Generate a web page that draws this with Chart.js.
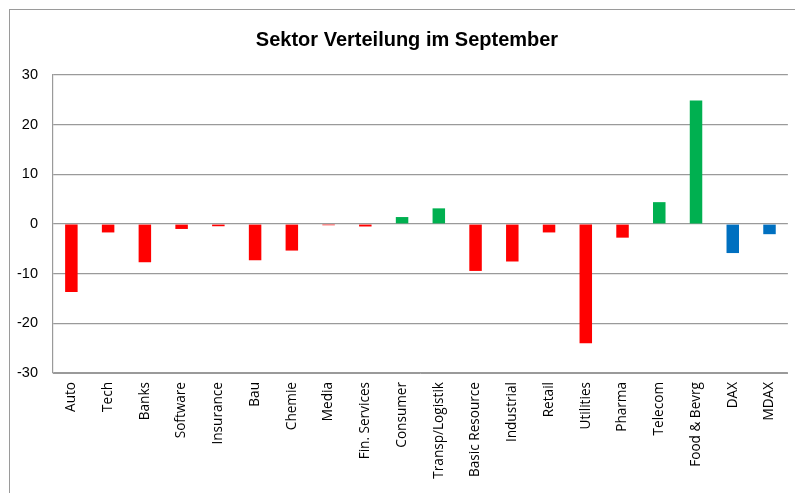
<!DOCTYPE html>
<html>
<head>
<meta charset="utf-8">
<script src="https://cdn.jsdelivr.net/npm/chart.js@4"></script>
<style>
  html, body { margin: 0; padding: 0; background: #fff; width: 795px; height: 493px; overflow: hidden; }
  #frame { position: absolute; left: 9px; top: 9px; width: 820px; height: 520px; border: 1.5px solid #9a9a9a; box-sizing: border-box; }
  #wrap { position: absolute; left: 0; top: 0; width: 795px; height: 493px; }
</style>
</head>
<body>
<div id="frame"></div>
<div id="wrap"><canvas id="c" width="795" height="493"></canvas></div>
<script>
const titleText = 'Sektor Verteilung im September';
const categories = ['Auto', 'Tech', 'Banks', 'Software', 'Insurance', 'Bau', 'Chemie', 'Media',
  'Fin. Services', 'Consumer', 'Transp/Logistik', 'Basic Resource', 'Industrial', 'Retail',
  'Utilities', 'Pharma', 'Telecom', 'Food & Bevrg', 'DAX', 'MDAX'];
const values = [-13.7, -1.7, -7.7, -1.0, -0.45, -7.3, -5.35, -0.25,
  -0.5, 1.4, 3.15, -9.45, -7.55, -1.7,
  -24.0, -2.75, 4.4, 24.85, -5.85, -2.05];
const indexCategories = ['DAX', 'MDAX'];
const yTicks = [-30, -20, -10, 0, 10, 20, 30];

const RED = '#FF0000', GREEN = '#00B050', BLUE = '#0070C0';
const colors = categories.map((c, i) =>
  indexCategories.includes(c) ? BLUE : (values[i] >= 0 ? GREEN : RED));

const titleShift = {
  id: 'titleShift',
  afterLayout(chart) {
    const t = chart.titleBlock;
    if (t) { t.left += 26; }
  }
};

new Chart(document.getElementById('c'), {
  type: 'bar',
  data: {
    labels: categories,
    datasets: [{
      data: values,
      backgroundColor: colors,
      borderWidth: 0,
      categoryPercentage: 1.0,
      barPercentage: 0.34
    }]
  },
  plugins: [titleShift],
  options: {
    responsive: false,
    animation: false,
    devicePixelRatio: 1,
    layout: { padding: { left: 0, right: 7, top: 0, bottom: 0 } },
    plugins: {
      legend: { display: false },
      tooltip: { enabled: false },
      title: {
        display: true,
        text: titleText,
        color: '#000',
        font: { family: '"Liberation Sans", Arial, sans-serif', size: 20, weight: 'bold', lineHeight: 1.2 },
        padding: { top: 28, bottom: 23 }
      }
    },
    scales: {
      x: {
        grid: { display: false, drawTicks: false },
        border: { display: true, color: '#9a9a9a', width: 1 },
        ticks: {
          color: '#000',
          autoSkip: false,
          minRotation: 90,
          maxRotation: 90,
          padding: 9,
          font: { family: '"Open Sans", sans-serif', size: 13.6 }
        },
        afterFit: (s) => { s.height = 120; }
      },
      y: {
        min: -30,
        max: 30,
        afterBuildTicks: (s) => { s.ticks = yTicks.map(v => ({ value: v })); },
        grid: { color: '#9a9a9a', lineWidth: 1.2, drawTicks: false },
        border: { display: true, color: '#9a9a9a', width: 1.2 },
        ticks: {
          color: '#000',
          padding: 15,
          font: { family: '"Liberation Sans", Arial, sans-serif', size: 14.5 }
        },
        afterFit: (s) => { s.width = 53; }
      }
    }
  }
});
</script>
</body>
</html>
